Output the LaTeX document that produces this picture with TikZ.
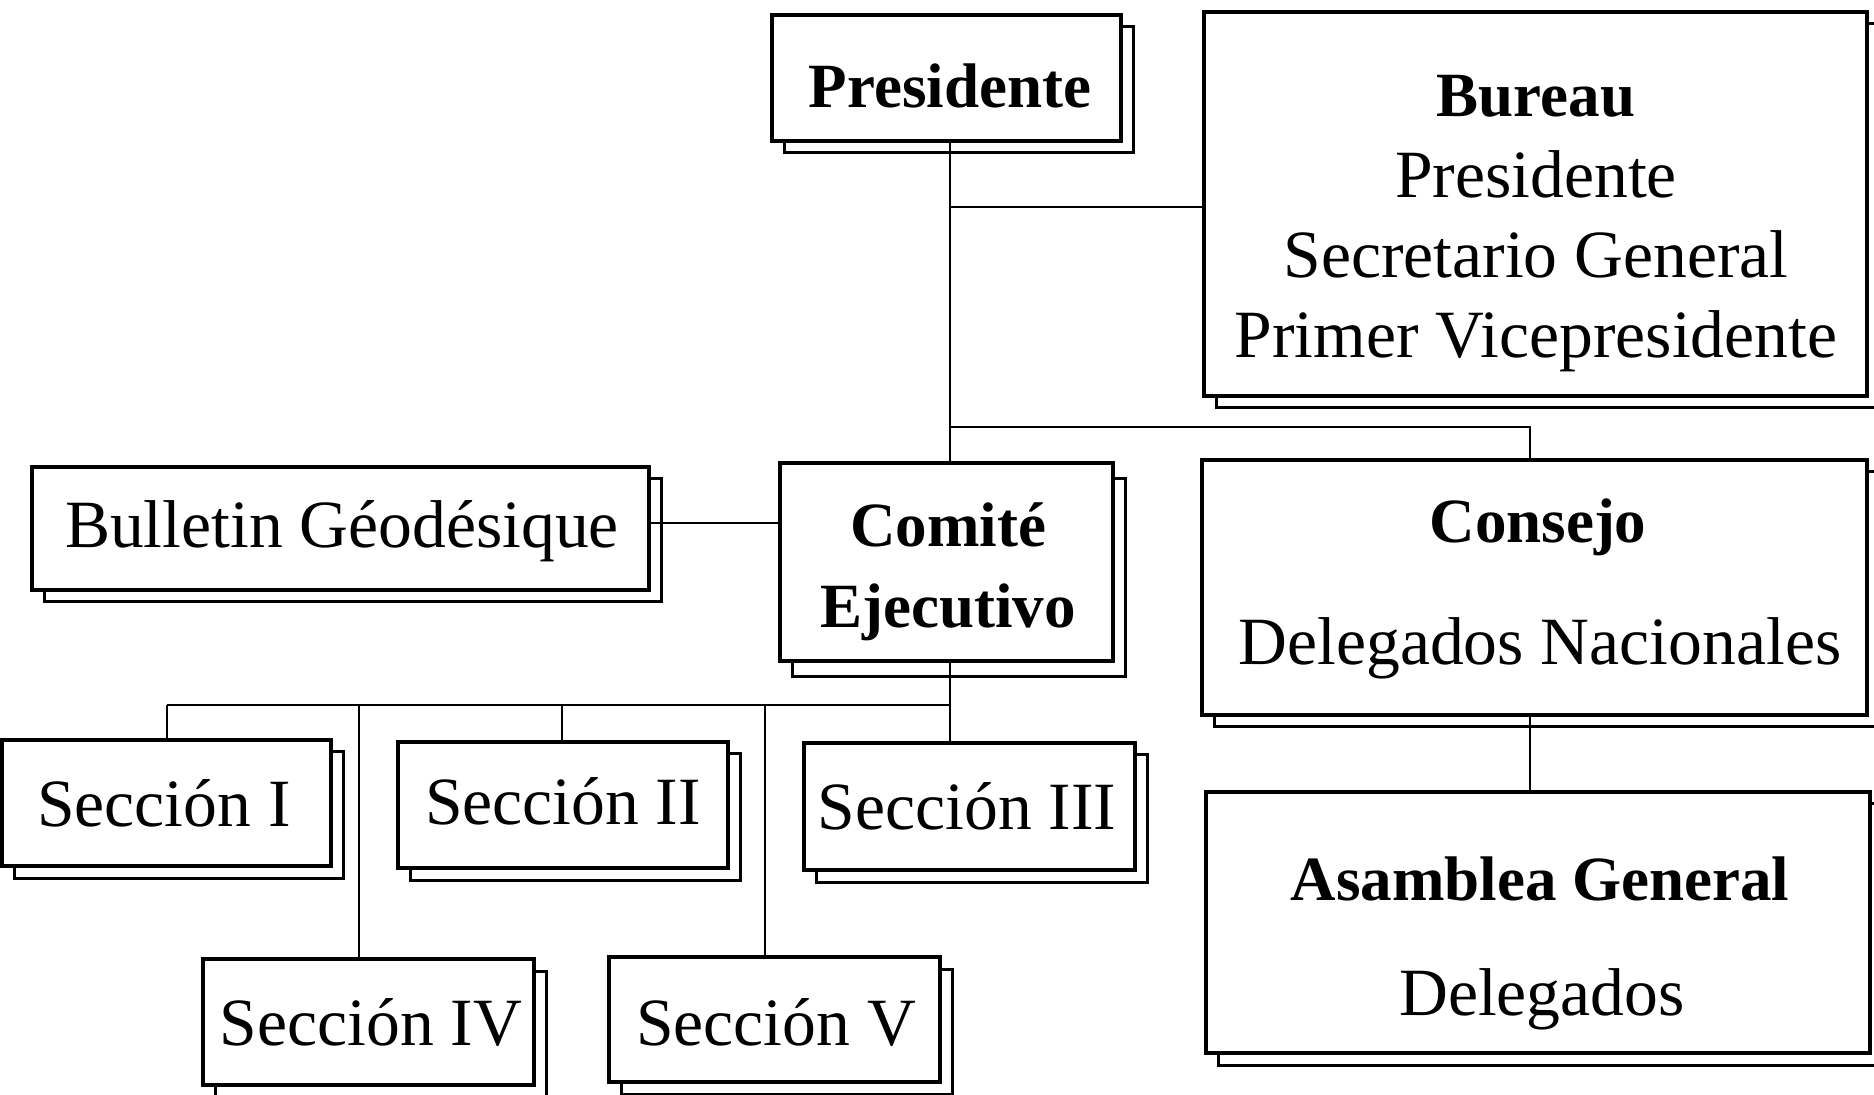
\documentclass[tikz,border=0pt]{standalone}
\usepackage{fontspec}
\setmainfont{Liberation Serif}
\usetikzlibrary{shadows,fit}
\begin{document}
\begin{tikzpicture}[x=0.5pt,y=-0.5pt,
  box/.style={draw=black, line width=1.7pt, fill=white, inner sep=0pt,
    general shadow={shadow xshift=6pt, shadow yshift=#1, draw=black, fill=white, line width=1.5pt}},
  box/.default=-6pt,
  reg/.style={font=\fontsize{33.8pt}{40pt}\selectfont, inner sep=0pt, anchor=base},
  bld/.style={font=\fontsize{31.5pt}{38pt}\selectfont\bfseries, inner sep=0pt, anchor=base},
  conn/.style={draw=black, line width=1.3pt}]
\useasboundingbox[fill=white] (0,0) rectangle (1874,1095);

% boxes
\node[box, fit={(772,15) (1121,141)}] (pres) {};
\node[box, fit={(1204,12) (1867,396)}] (bureau) {};
\node[box, fit={(32,467) (649,590)}] (bull) {};
\node[box=-8pt, fit={(780,463) (1113,661)}] (com) {};
\node[box, fit={(1202,460) (1867,715)}] (consejo) {};
\node[box, fit={(1206,792) (1870,1053)}] (asam) {};
\node[box, fit={(2,740) (331,866)}] (s1) {};
\node[box, fit={(398,742) (728,868)}] (s2) {};
\node[box, fit={(804,743) (1135,870)}] (s3) {};
\node[box, fit={(203,959) (534,1085)}] (s4) {};
\node[box, fit={(609,957) (940,1082)}] (s5) {};

% junctions
\coordinate (jb) at (950,207);
\coordinate (jc) at (950,427);
\coordinate (jd) at (1530,427);
\coordinate (jf) at (0,523);
\coordinate (je) at (950,705);
\coordinate (ja) at (167,705);
\coordinate (k4) at (359,705);
\coordinate (k2) at (562,705);
\coordinate (k5) at (765,705);

% connectors
\draw[conn] (pres.south -| jb) -- (com.north -| jb);
\draw[conn] (jb) -- (jb -| bureau.west);
\draw[conn] (jc) -- (jd) -- (jd |- consejo.north);
\draw[conn] (consejo.south -| jd) -- (asam.north -| jd);
\draw[conn] (bull.east |- jf) -- (com.west |- jf);
\draw[conn] (com.south -| je) -- (je);
\draw[conn] (ja) -- (je);
\draw[conn] (ja) -- (ja |- s1.north);
\draw[conn] (k4) -- (k4 |- s4.north);
\draw[conn] (k2) -- (k2 |- s2.north);
\draw[conn] (k5) -- (k5 |- s5.north);
\draw[conn] (je) -- (je |- s3.north);

% texts
\node[bld] (tpres) at (950,108) {Presidente};
\node[bld] (tbur) at (1536,117) {Bureau};
\node[reg] (tbur1) at (1536,198) {Presidente};
\node[reg] (tbur2) at (1536,278) {Secretario General};
\node[reg] (tbur3) at (1536,358) {Primer Vicepresidente};
\node[reg] (tbull) at (342,548) {Bulletin Géodésique};
\node[bld] (tcom1) at (948,547) {Comité};
\node[bld] (tcom2) at (948,628) {Ejecutivo};
\node[bld] (tcon) at (1538,543) {Consejo};
\node[reg] (tcon1) at (1540,665) {Delegados Nacionales};
\node[bld] (tasa) at (1540,900) {Asamblea General};
\node[reg] (tasa1) at (1542,1015) {Delegados};
\node[reg] (ts1) at (164,827) {Sección I};
\node[reg] (ts2) at (563,825) {Sección II};
\node[reg] (ts3) at (967,829) {Sección III};
\node[reg] (ts4) at (371,1045) {Sección IV};
\node[reg] (ts5) at (776,1045) {Sección V};
\end{tikzpicture}
\end{document}
